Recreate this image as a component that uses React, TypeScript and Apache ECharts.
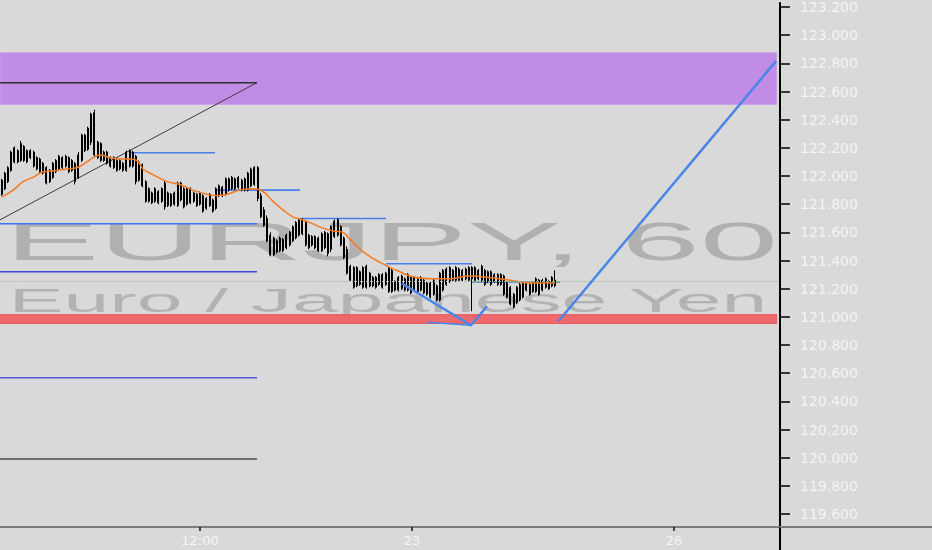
import React, { useEffect, useRef } from "react";
import * as echarts from "echarts";

// [open, close, low, high] per 60-minute bar
const candles: number[][] = [
  [121.87, 121.97, 121.86, 121.98], [121.91, 122.02, 121.9, 122.03], [121.96, 122.06, 121.95, 122.07],
  [122.04, 122.17, 122.03, 122.18], [122.1, 122.2, 122.09, 122.21], [122.18, 122.1, 122.09, 122.19],
  [122.11, 122.23, 122.1, 122.25], [122.21, 122.11, 122.1, 122.22], [122.1, 122.18, 122.09, 122.19],
  [122.18, 122.13, 122.12, 122.19], [122.17, 122.07, 122.06, 122.18], [122.05, 122.13, 122.04, 122.14],
  [122.12, 122.03, 122.02, 122.13], [122.09, 122.02, 122.01, 122.1], [122.06, 121.95, 121.94, 122.07],
  [121.96, 122.04, 121.95, 122.05], [121.99, 122.09, 121.98, 122.1], [122.11, 122.03, 122.02, 122.12],
  [122.05, 122.14, 122.04, 122.15], [122.13, 122.06, 122.05, 122.14], [122.07, 122.14, 122.06, 122.15],
  [122.13, 122.03, 122.02, 122.14], [122.04, 122.11, 122.03, 122.12], [122.09, 121.96, 121.94, 122.1],
  [121.99, 122.15, 121.98, 122.17], [122.11, 122.29, 122.1, 122.3], [122.29, 122.18, 122.17, 122.3],
  [122.19, 122.34, 122.18, 122.35], [122.24, 122.44, 122.22, 122.45], [122.45, 122.15, 122.13, 122.47],
  [122.13, 122.24, 122.12, 122.25], [122.23, 122.11, 122.1, 122.24], [122.11, 122.17, 122.1, 122.18],
  [122.17, 122.09, 122.08, 122.18], [122.07, 122.13, 122.06, 122.14], [122.13, 122.06, 122.05, 122.14],
  [122.04, 122.11, 122.03, 122.12], [122.11, 122.05, 122.04, 122.12], [122.04, 122.09, 122.03, 122.1],
  [122.04, 122.17, 122.03, 122.18], [122.18, 122.07, 122.06, 122.19], [122.07, 122.17, 122.06, 122.18],
  [122.14, 121.96, 121.94, 122.15], [121.97, 122.1, 121.96, 122.11], [122.08, 121.93, 121.92, 122.09],
  [121.96, 121.82, 121.81, 121.97], [121.82, 121.91, 121.81, 121.92], [121.88, 121.81, 121.8, 121.89],
  [121.82, 121.91, 121.81, 121.92], [121.89, 121.81, 121.8, 121.9], [121.82, 121.91, 121.81, 121.92],
  [121.95, 121.78, 121.76, 121.97], [121.79, 121.88, 121.78, 121.89], [121.87, 121.79, 121.78, 121.88],
  [121.8, 121.88, 121.79, 121.89], [121.79, 121.95, 121.78, 121.96], [121.95, 121.83, 121.82, 121.96],
  [121.91, 121.78, 121.77, 121.92], [121.8, 121.91, 121.79, 121.92], [121.91, 121.81, 121.8, 121.92],
  [121.82, 121.88, 121.81, 121.89], [121.87, 121.79, 121.78, 121.88], [121.8, 121.88, 121.79, 121.89],
  [121.86, 121.75, 121.74, 121.87], [121.77, 121.84, 121.76, 121.85], [121.87, 121.79, 121.78, 121.88],
  [121.83, 121.75, 121.74, 121.84], [121.77, 121.91, 121.76, 121.92], [121.93, 121.86, 121.85, 121.94],
  [121.86, 121.92, 121.85, 121.93], [121.87, 121.98, 121.86, 121.99], [121.98, 121.9, 121.89, 121.99],
  [121.91, 121.99, 121.9, 122.0], [121.98, 121.91, 121.9, 121.99], [121.92, 121.99, 121.91, 122.0],
  [121.97, 121.9, 121.89, 121.98], [121.9, 121.98, 121.89, 121.99], [121.9, 122.02, 121.89, 122.03],
  [121.93, 122.05, 121.92, 122.06], [121.94, 122.06, 121.93, 122.07], [122.06, 121.84, 121.82, 122.07],
  [121.86, 121.71, 121.7, 121.88], [121.76, 121.65, 121.64, 121.78], [121.7, 121.54, 121.53, 121.72],
  [121.58, 121.44, 121.43, 121.6], [121.44, 121.56, 121.43, 121.57], [121.54, 121.46, 121.45, 121.55],
  [121.47, 121.56, 121.46, 121.57], [121.55, 121.47, 121.46, 121.56], [121.49, 121.58, 121.48, 121.59],
  [121.51, 121.6, 121.5, 121.61], [121.54, 121.64, 121.53, 121.65], [121.56, 121.67, 121.55, 121.68],
  [121.69, 121.58, 121.57, 121.7], [121.59, 121.69, 121.58, 121.7], [121.67, 121.51, 121.5, 121.68],
  [121.49, 121.58, 121.48, 121.59], [121.57, 121.51, 121.5, 121.58], [121.49, 121.57, 121.48, 121.58],
  [121.56, 121.47, 121.46, 121.57], [121.47, 121.59, 121.46, 121.6], [121.6, 121.49, 121.48, 121.61],
  [121.45, 121.59, 121.43, 121.6], [121.48, 121.64, 121.46, 121.65], [121.57, 121.68, 121.56, 121.69],
  [121.69, 121.58, 121.57, 121.7], [121.64, 121.51, 121.5, 121.65], [121.56, 121.42, 121.41, 121.57],
  [121.48, 121.31, 121.3, 121.5], [121.36, 121.26, 121.25, 121.37], [121.35, 121.21, 121.2, 121.36],
  [121.22, 121.35, 121.21, 121.36], [121.32, 121.23, 121.22, 121.33], [121.21, 121.35, 121.2, 121.36],
  [121.36, 121.21, 121.2, 121.37], [121.22, 121.31, 121.21, 121.32], [121.28, 121.22, 121.21, 121.29],
  [121.21, 121.28, 121.2, 121.29], [121.3, 121.23, 121.22, 121.31], [121.21, 121.3, 121.2, 121.31],
  [121.31, 121.23, 121.22, 121.32], [121.18, 121.35, 121.17, 121.36], [121.33, 121.18, 121.17, 121.34],
  [121.19, 121.25, 121.18, 121.26], [121.28, 121.19, 121.18, 121.29], [121.2, 121.29, 121.19, 121.3],
  [121.27, 121.19, 121.18, 121.28], [121.19, 121.3, 121.18, 121.31], [121.28, 121.17, 121.16, 121.29],
  [121.19, 121.28, 121.18, 121.29], [121.27, 121.18, 121.17, 121.28], [121.19, 121.28, 121.18, 121.29],
  [121.26, 121.17, 121.16, 121.27], [121.16, 121.24, 121.15, 121.25], [121.24, 121.14, 121.13, 121.25],
  [121.16, 121.26, 121.15, 121.27], [121.22, 121.12, 121.11, 121.23], [121.12, 121.31, 121.11, 121.32],
  [121.19, 121.33, 121.18, 121.34], [121.34, 121.23, 121.22, 121.35], [121.25, 121.35, 121.24, 121.36],
  [121.33, 121.26, 121.25, 121.34], [121.26, 121.35, 121.25, 121.36], [121.34, 121.26, 121.25, 121.35],
  [121.26, 121.33, 121.25, 121.34], [121.34, 121.27, 121.26, 121.35], [121.26, 121.35, 121.25, 121.36],
  [121.35, 121.27, 121.04, 121.36], [121.26, 121.35, 121.25, 121.36], [121.33, 121.27, 121.26, 121.34],
  [121.26, 121.36, 121.25, 121.37], [121.33, 121.23, 121.22, 121.34], [121.25, 121.32, 121.24, 121.33],
  [121.32, 121.23, 121.22, 121.33], [121.25, 121.3, 121.24, 121.31], [121.3, 121.23, 121.22, 121.31],
  [121.23, 121.3, 121.22, 121.31], [121.29, 121.16, 121.15, 121.3], [121.24, 121.14, 121.13, 121.25],
  [121.21, 121.09, 121.08, 121.22], [121.16, 121.07, 121.06, 121.17], [121.1, 121.21, 121.09, 121.22],
  [121.12, 121.23, 121.11, 121.24], [121.14, 121.24, 121.13, 121.25], [121.24, 121.19, 121.18, 121.25],
  [121.23, 121.16, 121.15, 121.24], [121.18, 121.24, 121.17, 121.25], [121.18, 121.27, 121.17, 121.28],
  [121.26, 121.16, 121.15, 121.27], [121.19, 121.26, 121.18, 121.27], [121.27, 121.21, 121.2, 121.28],
  [121.2, 121.25, 121.19, 121.26], [121.28, 121.22, 121.21, 121.29], [121.22, 121.26, 121.21, 121.33],
];

// moving average (bar index, price)
const emaIdx = [0, 3.6, 6.7, 9.8, 13, 16, 20.4, 23.6, 26.7, 28.6, 30.75, 33.9, 37, 40, 42.3, 44.2, 47.3, 51.7, 55.75, 59.8, 64.2, 67.3, 70.4, 74.5, 78.6, 81.7, 84.8, 87.9, 91, 94, 97.3, 100.4, 103.6, 106.7, 108.9, 112, 115, 118, 121.4, 124.5, 127.6, 134, 140, 146, 152.6, 159, 165, 173];
const emaVal = [121.85, 121.9, 121.96, 121.99, 122.03, 122.035, 122.05, 122.06, 122.1, 122.13, 122.15, 122.13, 122.12, 122.12, 122.11, 122.05, 122.01, 121.96, 121.94, 121.9, 121.87, 121.86, 121.87, 121.9, 121.91, 121.89, 121.82, 121.76, 121.71, 121.69, 121.66, 121.63, 121.61, 121.6, 121.55, 121.48, 121.43, 121.39, 121.35, 121.32, 121.29, 121.27, 121.27, 121.29, 121.28, 121.26, 121.24, 121.24];

const yTicks = [119.6, 119.8, 120.0, 120.2, 120.4, 120.6, 120.8, 121.0, 121.2, 121.4, 121.6, 121.8, 122.0, 122.2, 122.4, 122.6, 122.8, 123.0, 123.2];
const xTickPos = [62, 128.25, 210.1];
const xTickLabels = ["12:00", "23", "26"];

const supplyZone = [122.508, 122.875];
const demandZone = [120.953, 121.016];
const zoneEnd = 242.2;
const leftLevelEnd = 79.8;
const leftLevels = [122.663, 121.661, 121.32, 120.567, 119.99];
const stepLevels = [
  [40.1, 66.7, 122.165],
  [66.7, 93.25, 121.9],
  [93.25, 120.1, 121.698],
  [120.1, 147, 121.377],
  [147, 174.5, 121.247],
];
const diagonal = [[-0.5, 121.689], [79.8, 122.663]];
const vPath = [[125.1, 121.237], [146.7, 120.94], [151.7, 121.075]];
const vBase = [[132.9, 120.962], [146.7, 120.94]];
const projection = [[174.0, 120.969], [242.0, 122.816]];
const lastPrice = 121.25;

const title = "EURJPY, 60";
const subtitle = "Euro / Japanese Yen";

const X_MIN = -0.5;
const X_MAX = 243.25;
const Y_MIN = 119.508;
const Y_MAX = 123.228;

const leftLevelStyles = [
  { color: "#2e2e2e", width: 1.5 },
  { color: "#3f6ff0", width: 1.5 },
  { color: "#4444d6", width: 1.5 },
  { color: "#5454de", width: 1.5 },
  { color: "#6f6f6f", width: 2 },
];

const lineSeries = (data: number[][], color: string, width: number, z: number) => ({
  type: "line",
  data,
  symbol: "none",
  silent: true,
  z,
  lineStyle: { color, width },
});

export default function App() {
  const ref = useRef<HTMLDivElement>(null);
  useEffect(() => {
    if (!ref.current) return;
    const chart = echarts.init(ref.current, undefined, { renderer: "svg" });
    const series: any[] = [];
    series.push({
      type: "line",
      data: [],
      silent: true,
      z: 1,
      markArea: {
        silent: true,
        data: [
          [
            { xAxis: X_MIN, yAxis: supplyZone[1], itemStyle: { color: "#c18ce6", borderColor: "#cba0ea", borderWidth: 1 } },
            { xAxis: zoneEnd, yAxis: supplyZone[0] },
          ],
          [
            { xAxis: X_MIN, yAxis: demandZone[1], itemStyle: { color: "rgba(240,92,96,0.9)", borderColor: "#e85a5e", borderWidth: 1 } },
            { xAxis: zoneEnd, yAxis: demandZone[0] },
          ],
        ],
      },
    });
    leftLevels.forEach((p, i) => {
      series.push(lineSeries([[X_MIN, p], [leftLevelEnd, p]], leftLevelStyles[i].color, leftLevelStyles[i].width, 2));
    });
    series.push(lineSeries(diagonal, "#3a3a3a", 1, 2));
    stepLevels.forEach((s) => {
      series.push(lineSeries([[s[0], s[2]], [s[1], s[2]]], "#4a7ee8", 1.6, 2));
    });
    series.push({
      type: "candlestick",
      data: candles.map((c, i) => [i, c[0], c[1], c[2], c[3]]),
      encode: { x: 0, y: [1, 2, 3, 4] },
      barWidth: 1.5,
      z: 3,
      silent: true,
      itemStyle: { color: "#000", color0: "#000", borderColor: "#000", borderColor0: "#000", borderWidth: 1 },
      markLine: {
        silent: true,
        symbol: ["none", "none"],
        label: { show: false },
        lineStyle: { color: "#95bd95", type: "dotted", width: 1 },
        data: [{ yAxis: lastPrice }],
      },
    });
    series.push({
      type: "line",
      data: emaIdx.map((x, i) => [x, emaVal[i]]),
      symbol: "none",
      smooth: 0.4,
      silent: true,
      z: 4,
      lineStyle: { color: "#f57a1f", width: 1.5 },
    });
    series.push(lineSeries(vPath, "#4a86e8", 2.5, 5));
    series.push(lineSeries(vBase, "#4a86e8", 1.6, 5));
    series.push(lineSeries(projection, "#4a86e8", 2.5, 5));

    chart.setOption({
      animation: false,
      backgroundColor: "#d9d9d9",
      grid: { left: 0, right: 152, top: 0, bottom: 23, containLabel: false },
      xAxis: {
        type: "value",
        min: X_MIN,
        max: X_MAX,
        splitLine: { show: false },
        axisLine: { show: true, onZero: false, lineStyle: { color: "#7c7c7c", width: 2 } },
        axisTick: { show: true, customValues: xTickPos, length: 4, lineStyle: { color: "#111", width: 1.5 } },
        axisLabel: {
          customValues: xTickPos,
          formatter: (v: number) => {
            let best = 0;
            xTickPos.forEach((p, i) => {
              if (Math.abs(p - v) < Math.abs(xTickPos[best] - v)) best = i;
            });
            return xTickLabels[best];
          },
          color: "#f4f4f4",
          fontSize: 13,
          fontFamily: "DejaVu Sans",
          margin: 7,
        },
      },
      yAxis: {
        type: "value",
        position: "right",
        min: Y_MIN,
        max: Y_MAX,
        scale: true,
        splitLine: { show: false },
        axisLine: { show: true, onZero: false, lineStyle: { color: "#000", width: 2 } },
        axisTick: { show: true, customValues: yTicks, length: 10, lineStyle: { color: "#000", width: 1.5 } },
        axisLabel: {
          customValues: yTicks,
          formatter: (v: number) => v.toFixed(3),
          color: "#f4f4f4",
          fontSize: 14,
          fontFamily: "DejaVu Sans",
          margin: 20,
        },
      },
      graphic: [
        {
          type: "text",
          x: 391.5,
          y: 242,
          scaleX: 2.66,
          z: 0,
          silent: true,
          style: { text: title, fontSize: 53, fontFamily: "Liberation Sans", fill: "#b0b0b0", align: "center", verticalAlign: "middle" },
        },
        {
          type: "text",
          x: 388,
          y: 300,
          scaleX: 2.49,
          z: 0,
          silent: true,
          style: { text: subtitle, fontSize: 33, fontFamily: "Liberation Sans", fill: "#b3b3b3", align: "center", verticalAlign: "middle" },
        },
        { type: "line", z: 10, silent: true, shape: { x1: 780, y1: 527, x2: 780, y2: 550 }, style: { stroke: "#000", lineWidth: 2 } },
        { type: "line", z: 10, silent: true, shape: { x1: 780, y1: 527, x2: 932, y2: 527 }, style: { stroke: "#7c7c7c", lineWidth: 2 } },
      ],
      series,
    });
    return () => chart.dispose();
  }, []);
  return <div ref={ref} style={{ position: "fixed", left: 0, top: 0, width: 932, height: 550 }} />;
}
